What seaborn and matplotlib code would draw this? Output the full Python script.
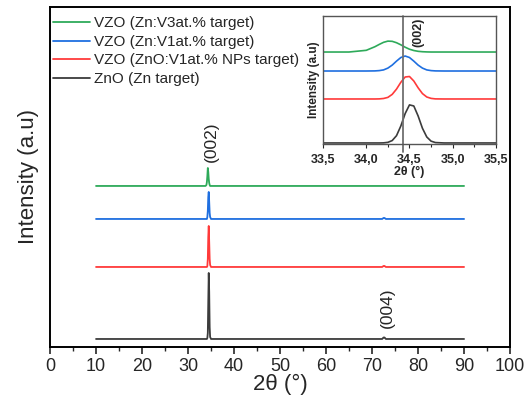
import numpy as np
import pandas as pd
import matplotlib
matplotlib.use("Agg")
import matplotlib.pyplot as plt
from matplotlib.ticker import MultipleLocator, FixedLocator
import seaborn as sns

# ---- data (arbitrary intensity units, offset stacked) ----
labels = ["VZO (Zn:V3at.% target)", "VZO (Zn:V1at.% target)",
          "VZO (ZnO:V1at.% NPs target)", "ZnO (Zn target)"]
colors = ["#2eaa5a", "#1f6fe0", "#ff3a3a", "#3c3c3c"]

# full scan
two_theta = [10, 33.8, 34.0, 34.1, 34.2, 34.3, 34.4, 34.5, 34.6, 34.7, 34.8, 35.0,
             72.2, 72.5, 72.7, 73.0, 90]
int_green = [161, 161, 162, 165, 171, 179, 175, 168, 164, 162, 161, 161, 161, 161, 161, 161, 161]
int_blue = [128, 128, 128, 128, 130, 136, 150, 155, 145, 134, 130, 128, 128, 129, 129, 128, 128]
int_red = [80, 80, 80, 80, 81, 88, 110, 121, 105, 88, 82, 80, 80, 81, 81, 80, 80]
int_black = [8, 8, 8, 8, 9, 14, 45, 74, 55, 20, 10, 8, 8, 9.5, 9.5, 8, 8]

# zoom on the (002) reflection
zoom_theta = [33.5, 33.8, 34.0, 34.1, 34.15, 34.2, 34.25, 34.3, 34.35, 34.4, 34.45, 34.5,
              34.55, 34.6, 34.65, 34.7, 34.75, 34.8, 34.9, 35.0, 35.2, 35.5]
zoom_green = [92, 92, 93.7, 97.3, 99.6, 101.7, 102.9, 102.7, 101.3, 99.2, 96.8, 94.8,
              93.5, 92.7, 92.3, 92.1, 92, 92, 92, 92, 92, 92]
zoom_blue = [73, 73, 73, 73.1, 73.4, 74.1, 75.9, 78.9, 82.9, 86.5, 88, 86.5,
             82.9, 78.9, 75.9, 74.1, 73.4, 73.1, 73, 73, 73, 73]
zoom_red = [45, 45, 45, 45, 45.1, 45.5, 46.6, 49.6, 54.9, 61.7, 67, 67.5,
            63, 56.2, 50.4, 47, 45.6, 45.1, 45, 45, 45, 45]
zoom_black = [1, 1, 1, 1, 1, 1.1, 1.6, 3.4, 8.3, 18, 30.4, 39.1,
              38, 28, 15.7, 7, 2.8, 1.4, 1, 1, 1, 1]
ref_002 = 34.42

full = [int_green, int_blue, int_red, int_black]
zoom = [zoom_green, zoom_blue, zoom_red, zoom_black]

sns.set_theme(style="white")
plt.rcParams["font.family"] = ["Liberation Sans", "DejaVu Sans"]

fig = plt.figure(figsize=(5.27, 4.01), dpi=100)
ax = fig.add_axes([0.0949, 0.1347, 0.873, 0.848])

for lab, col, ys in zip(labels, colors, full):
    df = pd.DataFrame({"x": two_theta, "y": ys})
    sns.lineplot(data=df, x="x", y="y", color=col, lw=1.3, ax=ax, label=lab)

ax.set_xlim(0, 100)
ax.set_ylim(0, 340)
ax.xaxis.set_major_locator(MultipleLocator(10))
ax.xaxis.set_minor_locator(MultipleLocator(5))
ax.tick_params(axis="x", which="major", direction="out", length=5, width=1.2,
               labelsize=13, pad=3, bottom=True)
ax.tick_params(axis="x", which="minor", direction="out", length=3, width=1, bottom=True)
ax.set_yticks([])
for s in ax.spines.values():
    s.set_linewidth(1.4)
    s.set_color("black")
ax.set_xlabel("2θ (°)", fontsize=16, labelpad=-1)
ax.set_ylabel("Intensity (a.u)", fontsize=16, labelpad=8)

ax.text(35.0, 185, "(002)", rotation=90, ha="center", va="bottom", fontsize=12.5)
ax.text(73.3, 19, "(004)", rotation=90, ha="center", va="bottom", fontsize=12.5)

ax.legend(loc="upper left", bbox_to_anchor=(-0.01, 0.995), borderaxespad=0.3, frameon=False,
          fontsize=11, handlelength=2.4, handletextpad=0.3, labelspacing=0.3,
          borderpad=0.2)

# inset
ins = fig.add_axes([0.613, 0.641, 0.328, 0.319])
for col, ys in zip(colors, zoom):
    df = pd.DataFrame({"x": zoom_theta, "y": ys})
    sns.lineplot(data=df, x="x", y="y", color=col, lw=1.2, ax=ins)
ins.axvline(ref_002, color="#707070", lw=1.3, ymin=-0.06, clip_on=False)
ins.set_xlim(33.5, 35.5)
ins.set_ylim(0, 128)
ins.xaxis.set_major_locator(FixedLocator([33.5, 34.0, 34.5, 35.0, 35.5]))
ins.xaxis.set_minor_locator(FixedLocator([34.25, 34.75, 35.25]))
ins.set_xticklabels(["33,5", "34,0", "34,5", "35,0", "35,5"], fontweight="bold")
ins.tick_params(axis="x", which="major", direction="out", length=3, width=0.8,
                labelsize=9, pad=4, bottom=True)
ins.tick_params(axis="x", which="minor", direction="out", length=2.5, width=0.8, bottom=True)
ins.set_yticks([])
for s in ins.spines.values():
    s.set_linewidth(1.0)
    s.set_color("#555555")
ins.set_xlabel("2θ (°)", fontsize=9, fontweight="bold", labelpad=0)
ins.set_ylabel("Intensity (a.u)", fontsize=8.5, fontweight="bold", labelpad=2)
ins.text(34.6, 126, "(002)", rotation=90, ha="center", va="top", fontsize=9,
         fontweight="bold")

fig.savefig("out.png", dpi=100)
